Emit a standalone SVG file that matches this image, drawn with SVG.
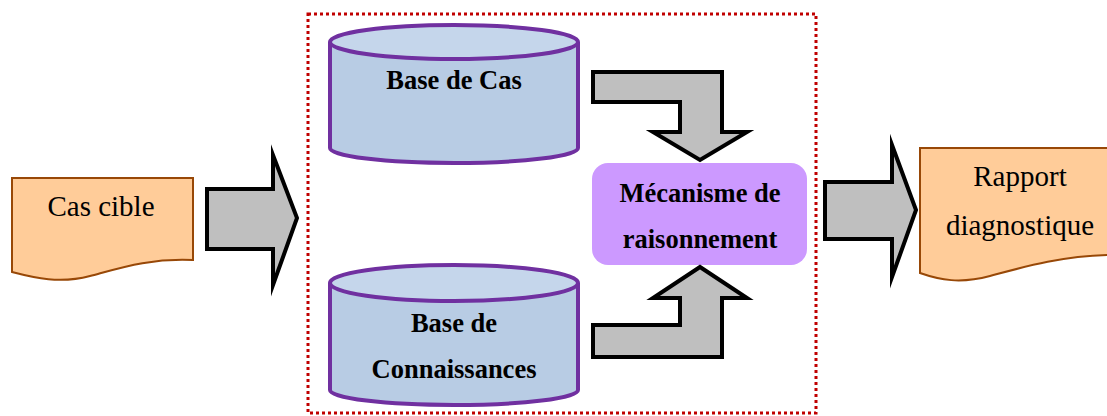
<svg xmlns="http://www.w3.org/2000/svg" width="1107" height="416" viewBox="0 0 1107 416">
<style>
.doc{fill:#FFCC99;stroke:#984807;stroke-width:2}
.cylb{fill:#B8CCE4;stroke:#7030A0;stroke-width:4}
.cylt{fill:#C5D6EB;stroke:#7030A0;stroke-width:4}
.arr{fill:#BFBFBF;stroke:#000;stroke-width:4;stroke-linejoin:miter;stroke-miterlimit:10}
.t{font-family:'Liberation Serif','Times New Roman','DejaVu Serif',serif;font-size:29px;font-weight:normal;fill:#000;text-anchor:middle}
.b{font-family:'Liberation Serif','Times New Roman','DejaVu Serif',serif;font-size:26.5px;font-weight:bold;fill:#000;text-anchor:middle}
</style>
<rect width="1107" height="416" fill="#fff"/>
<rect x="308" y="14" width="508" height="399" fill="none" stroke="#C00000" stroke-width="3" stroke-dasharray="3,3"/>
<g id="cas-cible">
<path class="doc" d="M12,178 H193 V260 C150,258 120,268 90,276 C60,284 35,278 12,272 Z"/>
<text class="t" x="101" y="216">Cas cible</text>
</g>
<g id="base-de-cas">
<path class="cylb" d="M330,42 V148 A124,15 0 0 0 578,148 V42"/>
<ellipse class="cylt" cx="454" cy="42" rx="124" ry="17"/>
<text class="b" x="454" y="89">Base de Cas</text>
</g>
<g id="base-connaissances">
<path class="cylb" d="M330,283 V390 A124,15 0 0 0 578,390 V283"/>
<ellipse class="cylt" cx="454" cy="283" rx="124" ry="18"/>
<text class="b" x="454" y="332">Base de</text>
<text class="b" x="454" y="378">Connaissances</text>
</g>
<g id="mecanisme">
<rect x="592" y="163" width="215" height="102" rx="16" fill="#CC99FF"/>
<text class="b" x="700" y="202">Mécanisme de</text>
<text class="b" x="700" y="248">raisonnement</text>
</g>
<g id="rapport">
<path class="doc" d="M920,148 H1109 V255 C1060,256 1020,268 990,276 C960,284 940,280 920,273 Z"/>
<text class="t" x="1020" y="186">Rapport</text>
<text class="t" x="1020" y="235">diagnostique</text>
</g>
<g id="connectors">
<polygon class="arr" points="207,189 273,189 273,155 297,218 273,285 273,249 207,249"/>
<polygon class="arr" points="825,182 892,182 892,145 916,210 892,277 892,239 825,239"/>
<polygon class="arr" points="593,72 722,72 722,132 747,132 700,160 653,132 680,132 680,102 593,102"/>
<polygon class="arr" points="593,357 722,357 722,298 747,298 700,267 653,298 680,298 680,325 593,325"/>
</g>
</svg>
